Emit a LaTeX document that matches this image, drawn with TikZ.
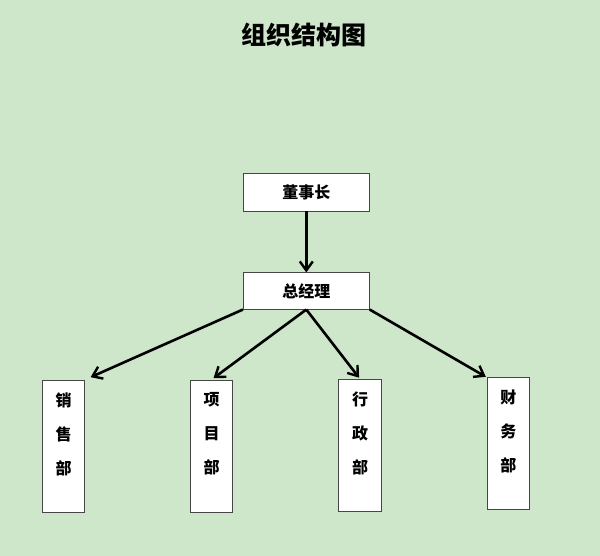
\documentclass[tikz,border=0pt]{standalone}
\usepackage{fontspec}
\newfontfamily\cjk{Noto Sans CJK SC}
\usetikzlibrary{arrows.meta, positioning}
\definecolor{bggreen}{RGB}{206,230,201}
\definecolor{boxline}{RGB}{70,70,70}

\begin{document}
\begin{tikzpicture}[x=1pt, y=-1pt,
    head/.style={draw=boxline, fill=white, line width=0.8pt, minimum width=126pt, inner sep=0pt, font=\cjk\bfseries\fontsize{16}{18}\selectfont},
    dept/.style={draw=boxline, fill=white, line width=0.8pt, minimum width=42.5pt, minimum height=132pt, inner sep=0pt},
    depttext/.style={align=center, inner sep=0pt, font=\cjk\bfseries\fontsize{16}{34}\selectfont},
    link/.style={line width=2.6pt, -{Straight Barb[length=9pt, width=13pt, line width=2.4pt]}}]
    \fill[bggreen] (0,0) rectangle (600,556);
    \useasboundingbox (0,0) rectangle (600,556);
    \node[font=\cjk\bfseries\fontsize{25}{28}\selectfont] (title) at (304,35) {组织结构图};
    \node[head, minimum height=37.7pt] (dsz) at (306.3,192.2) {董事长};
    \node[head, minimum height=36.3pt] (zjl) at (306.3,291) {总经理};
    % departments
    \foreach \n/\x/\y/\t in {xs/63.5/446/{销\\售\\部}, xm/211.5/446/{项\\目\\部}, xz/360/445.3/{行\\政\\部}, cw/508.3/443.7/{财\\务\\部}} {
        \node[dept] (\n) at (\x,\y) {};
        \node[depttext, yshift=12pt] (\n-t) at (\n.center) {\t};
    }
    \draw[link] (dsz) -- (zjl);
    \draw[link, shorten >=6pt] (zjl.south west) -- (xs.north east);
    \draw[link, shorten >=2.5pt] (zjl.south) -- (xm.north);
    \draw[link, shorten >=1.5pt] (zjl.south) -- (xz.north);
    \draw[link, shorten >=1pt] (zjl.south east) -- (cw.north west);
\end{tikzpicture}
\end{document}
